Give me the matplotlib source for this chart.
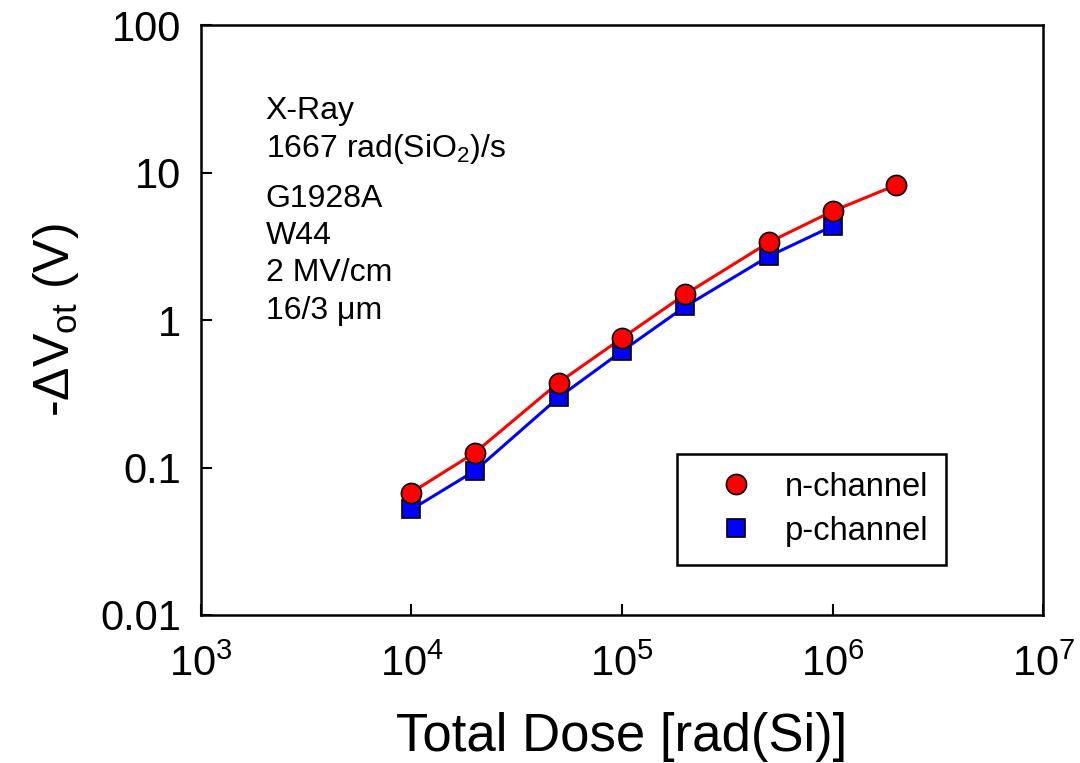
import matplotlib
matplotlib.use("Agg")
import matplotlib.pyplot as plt

plt.rcParams['font.family'] = ['Liberation Sans', 'DejaVu Sans']
plt.rcParams['mathtext.fontset'] = 'custom'
plt.rcParams['mathtext.rm'] = 'Liberation Sans'
plt.rcParams['mathtext.it'] = 'Liberation Sans'

dose_n = [1e4, 2e4, 5e4, 1e5, 2e5, 5e5, 1e6, 2e6]
dvot_n = [0.0677, 0.126, 0.377, 0.755, 1.50, 3.38, 5.48, 8.23]
dose_p = [1e4, 2e4, 5e4, 1e5, 2e5, 5e5, 1e6]
dvot_p = [0.052, 0.095, 0.299, 0.616, 1.24, 2.72, 4.34]

x_ticks = [1e3, 1e4, 1e5, 1e6, 1e7]
x_ticklabels = ['10$^3$', '10$^4$', '10$^5$', '10$^6$', '10$^7$']
y_ticks = [0.01, 0.1, 1, 10, 100]
y_ticklabels = ['0.01', '0.1', '1', '10', '100']

fig = plt.figure(figsize=(10.8, 7.63), dpi=100)
ax = fig.add_axes([0.186, 0.194, 0.780, 0.773])

ax.plot(dose_n, dvot_n, color='red', lw=2.2, zorder=2)
ax.plot(dose_p, dvot_p, color='blue', lw=2.2, zorder=2)
ax.plot(dose_p, dvot_p, ls='none', marker='s', ms=13, mfc='blue', mec='black', mew=1.2, zorder=3)
ax.plot(dose_n, dvot_n, ls='none', marker='o', ms=14.5, mfc='red', mec='black', mew=1.2, zorder=4)

h1, = ax.plot([], [], ls='none', marker='o', ms=14.5, mfc='red', mec='black', mew=1.2, label='n-channel')
h2, = ax.plot([], [], ls='none', marker='s', ms=13, mfc='blue', mec='black', mew=1.2, label='p-channel')

ax.set_xscale('log')
ax.set_yscale('log')
ax.set_xlim(1e3, 1e7)
ax.set_ylim(0.01, 100)
ax.set_xticks(x_ticks)
ax.set_xticklabels(x_ticklabels)
ax.set_yticks(y_ticks)
ax.set_yticklabels(y_ticklabels)
ax.minorticks_off()
ax.tick_params(axis='both', which='major', direction='in', length=8, width=1.5, labelsize=30)
ax.tick_params(axis='x', pad=21)
ax.tick_params(axis='y', pad=14)
for s in ax.spines.values():
    s.set_linewidth(1.8)

ax.set_xlabel('Total Dose [rad(Si)]', fontsize=38, labelpad=20)
ax.set_ylabel(r'-$\Delta$V$_{\rm ot}$ (V)', fontsize=36, labelpad=14)

txt_x = 0.077
ax.text(txt_x, 0.854, 'X-Ray', transform=ax.transAxes, fontsize=23, va='center')
ax.text(txt_x, 0.790, r'1667 rad(SiO$_2$)/s', transform=ax.transAxes, fontsize=23, va='center')
lines = ['G1928A', 'W44', '2 MV/cm', '16/3 \u03bcm']
for i, t in enumerate(lines):
    ax.text(txt_x, 0.705 - i * 0.063, t, transform=ax.transAxes, fontsize=23, va='center')

leg = ax.legend(handles=[h1, h2], loc='lower right', bbox_to_anchor=(0.885, 0.085),
                fontsize=23.5, frameon=True, fancybox=False, edgecolor='black',
                framealpha=1, handletextpad=0.25, borderpad=0.55, labelspacing=0.4,
                borderaxespad=0, handlelength=2.5)
leg.get_frame().set_linewidth(1.8)

fig.savefig('out.png', dpi=100)
